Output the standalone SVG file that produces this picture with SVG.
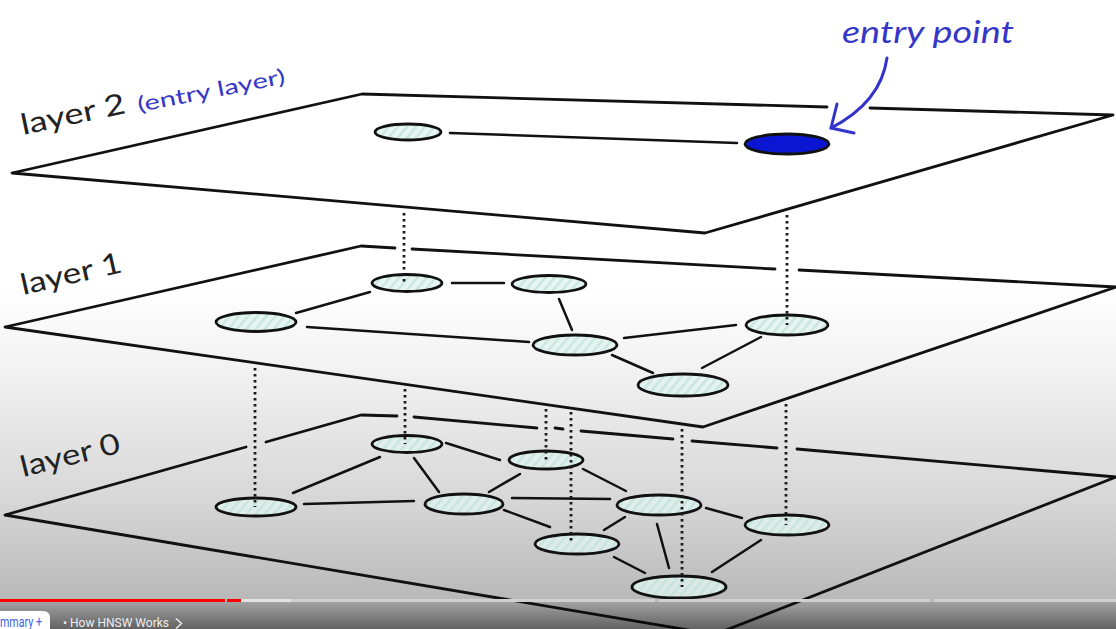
<svg xmlns="http://www.w3.org/2000/svg" width="1116" height="629" viewBox="0 0 1116 629">
<style>
.plane{fill:none;stroke:#111;stroke-width:2.8;stroke-linejoin:round;stroke-linecap:round}
.edge{stroke:#111;stroke-width:2.5;stroke-linecap:round;fill:none}
.dot{stroke:#1a1a1a;stroke-width:2.8;stroke-dasharray:2.6 3.4;fill:none}
.node{fill:url(#hatch);stroke:#111;stroke-width:2.8}
.lbl{font-family:Lato,"Open Sans",sans-serif;fill:#222}
.blue{font-family:Lato,"Open Sans",sans-serif;fill:#3636c8}
</style>
<defs>
<linearGradient id="bg" x1="0" y1="0" x2="0" y2="1">
<stop offset="0" stop-color="#ffffff"/>
<stop offset="0.46" stop-color="#ffffff"/>
<stop offset="0.62" stop-color="#eeeeee"/>
<stop offset="0.8" stop-color="#d6d6d6"/>
<stop offset="0.95" stop-color="#b9b9b9"/>
<stop offset="1" stop-color="#b3b3b3"/>
</linearGradient>
<linearGradient id="bar" x1="0" y1="0" x2="0" y2="1">
<stop offset="0" stop-color="#000" stop-opacity="0.12"/>
<stop offset="1" stop-color="#000" stop-opacity="0.45"/>
</linearGradient>
<pattern id="hatch" patternUnits="userSpaceOnUse" width="7" height="7" patternTransform="rotate(40)">
<rect width="7" height="7" fill="#e2f4f0" fill-opacity="0.8"/>
<rect width="2.5" height="7" fill="#c2e2dc" fill-opacity="0.8"/>
</pattern>
</defs>
<rect width="1116" height="629" fill="url(#bg)"/>

<g id="planes">
<path class="plane" d="M827,107 L362,94 L12,173 L705,233 L1113,115 L870,108"/>
<path class="plane" d="M395,248 L361,246 L5,327 L703,427 L1116,287 L799,270 M775,269 L412,249"/>
<path class="plane" d="M246,447 L5,515 L712,634 M716,634 L1116,477 L797,449 M777,448 L692,441 M673,439 L581,431 M563,429 L555,428 M537,428 L414,417 M397,416 L361,415 L266,442"/>
</g>

<g id="connectors">
<path class="edge" d="M450,133 L737,143"/>
<path class="edge" d="M452,283 L504,283"/>
<path class="edge" d="M370,292 L296,313"/>
<path class="edge" d="M307,327 L529,342"/>
<path class="edge" d="M559,299 L572,330"/>
<path class="edge" d="M624,338 L736,325"/>
<path class="edge" d="M612,355 L653,373"/>
<path class="edge" d="M761,337 L702,368"/>
<path class="edge" d="M380,457 L293,493"/>
<path class="edge" d="M304,504 L414,501"/>
<path class="edge" d="M414,458 L439,492"/>
<path class="edge" d="M446,443 L500,460"/>
<path class="edge" d="M520,474 L489,492"/>
<path class="edge" d="M512,498 L610,499"/>
<path class="edge" d="M504,510 L550,527"/>
<path class="edge" d="M583,469 L626,491"/>
<path class="edge" d="M625,517 L604,530"/>
<path class="edge" d="M657,524 L669,568"/>
<path class="edge" d="M706,508 L742,518"/>
<path class="edge" d="M761,540 L712,572"/>
<path class="edge" d="M614,557 L645,573"/>
</g>

<g id="node-l2-a"><ellipse class="node" cx="408" cy="132" rx="33" ry="8"/></g>
<g id="node-l2-entry"><ellipse cx="787" cy="144" rx="42" ry="10" fill="#0a16d2" stroke="#111" stroke-width="2.8"/></g>

<g id="node-l1-p"><ellipse class="node" cx="407" cy="283" rx="35" ry="8.5"/></g>
<g id="node-l1-q"><ellipse class="node" cx="549" cy="284" rx="37" ry="8.5"/></g>
<g id="node-l1-r"><ellipse class="node" cx="256" cy="322" rx="40" ry="9.5"/></g>
<g id="node-l1-s"><ellipse class="node" cx="575" cy="345" rx="42" ry="10"/></g>
<g id="node-l1-t"><ellipse class="node" cx="787" cy="325" rx="41" ry="10"/></g>
<g id="node-l1-u"><ellipse class="node" cx="683" cy="385" rx="45" ry="11"/></g>

<g id="node-l0-a"><ellipse class="node" cx="407" cy="444" rx="35" ry="8.5"/></g>
<g id="node-l0-b"><ellipse class="node" cx="546" cy="460" rx="37" ry="9"/></g>
<g id="node-l0-c"><ellipse class="node" cx="256" cy="507" rx="40" ry="9"/></g>
<g id="node-l0-d"><ellipse class="node" cx="464" cy="504" rx="39" ry="10"/></g>
<g id="node-l0-e"><ellipse class="node" cx="659" cy="505" rx="42" ry="10"/></g>
<g id="node-l0-f"><ellipse class="node" cx="787" cy="525" rx="42" ry="10"/></g>
<g id="node-l0-g"><ellipse class="node" cx="577" cy="544" rx="42" ry="10"/></g>
<g id="node-l0-h"><ellipse class="node" cx="679" cy="587" rx="47" ry="11"/></g>

<g id="connectors-vertical">
<path class="dot" d="M404,213 L404,283"/>
<path class="dot" d="M787,215 L787,325"/>
<path class="dot" d="M255,368 L255,507"/>
<path class="dot" d="M405,389 L405,444"/>
<path class="dot" d="M546,409 L546,460"/>
<path class="dot" d="M571,412 L571,544"/>
<path class="dot" d="M682,429 L682,587"/>
<path class="dot" d="M786,404 L786,525"/>
</g>

<g id="labels">
<text class="lbl" font-size="29" transform="translate(23,135) rotate(-12)" textLength="106" lengthAdjust="spacingAndGlyphs">layer 2</text>
<text class="blue" font-size="21" transform="translate(139,112) rotate(-11)" textLength="150" lengthAdjust="spacingAndGlyphs">(entry layer)</text>
<text class="lbl" font-size="29" transform="translate(23,295) rotate(-13)" textLength="103" lengthAdjust="spacingAndGlyphs">layer 1</text>
<text class="lbl" font-size="29" transform="translate(23,477) rotate(-14)" textLength="102" lengthAdjust="spacingAndGlyphs">layer 0</text>
<text class="blue" font-size="31" x="842" y="43" textLength="172" lengthAdjust="spacingAndGlyphs" font-style="italic">entry point</text>
</g>

<g id="entry-arrow" fill="none" stroke="#3333cc" stroke-width="3" stroke-linecap="round" stroke-linejoin="round">
<path d="M887,58 C883,86 866,110 831,128"/>
<path d="M837,104 L831,128 L854,133"/>
</g>

<g id="player-bar">
<rect x="0" y="602" width="1116" height="27" fill="url(#bar)"/>
<rect x="291" y="599" width="364" height="3" fill="#d0d0d0"/>
<rect x="659" y="599" width="271" height="3" fill="#d0d0d0"/>
<rect x="934" y="599" width="182" height="3" fill="#d0d0d0"/>
<rect x="241" y="599" width="50" height="3" fill="#e2e2e2"/>
<rect x="0" y="599" width="225" height="3" fill="#ff0000"/>
<rect x="227" y="599" width="14" height="3" fill="#ff0000"/>
<path d="M-10,629 L-10,618 Q-10,611 -3,611 L43,611 Q50,611 50,618 L50,629 Z" fill="#ffffff"/>
<text x="0" y="627" font-family="Roboto,sans-serif" font-size="14" fill="#3b63e8" textLength="42" lengthAdjust="spacingAndGlyphs">mmary +</text>
<text x="63" y="627" font-family="Roboto,sans-serif" font-size="13.5" fill="#eeeeee" textLength="106" lengthAdjust="spacingAndGlyphs">• How HNSW Works</text>
<path d="M176,618.5 L181.5,623.5 L176,628.5" fill="none" stroke="#eeeeee" stroke-width="1.5"/>
</g>
</svg>
